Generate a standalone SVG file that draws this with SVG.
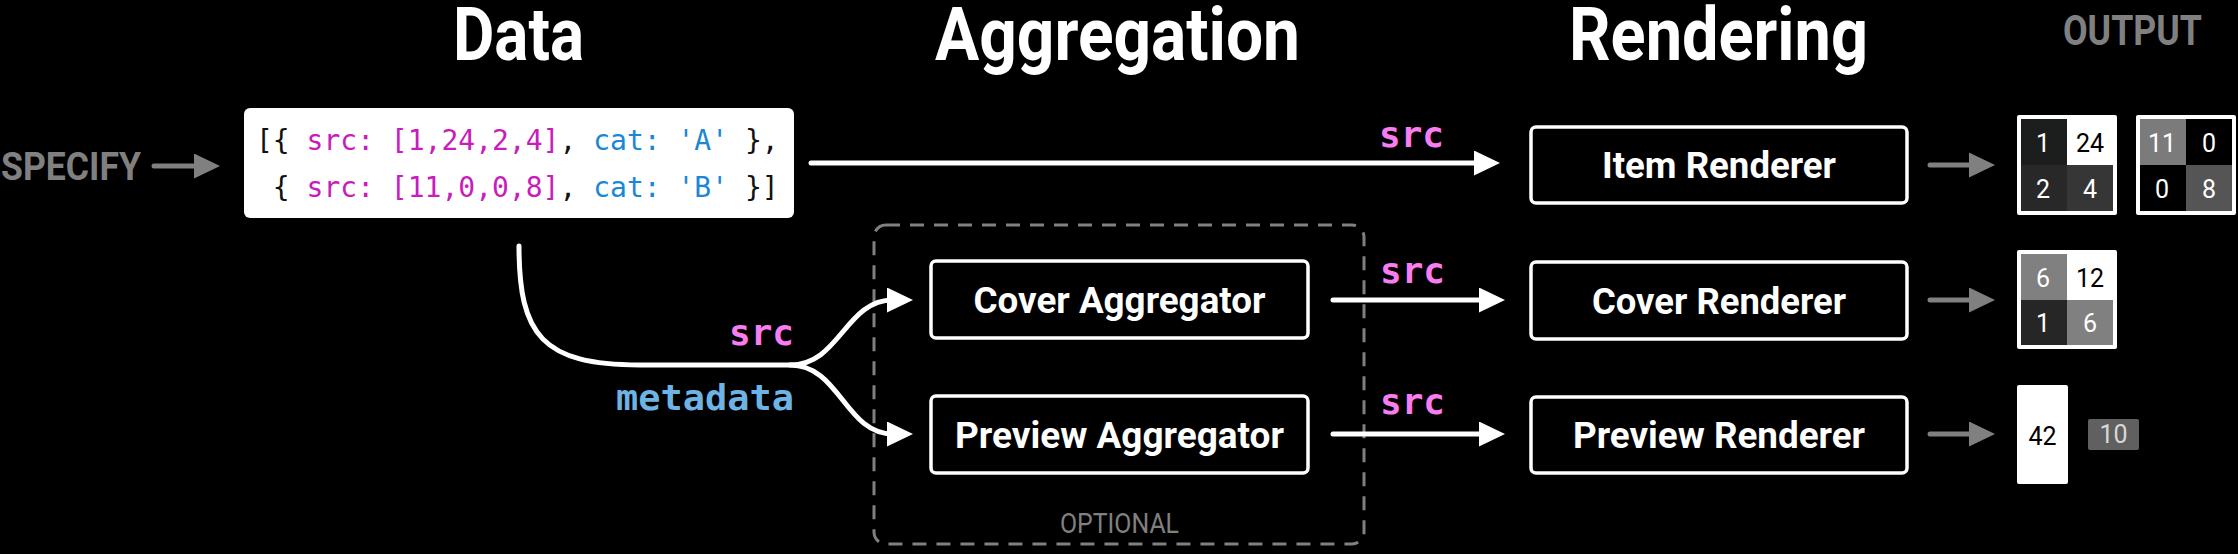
<svg xmlns="http://www.w3.org/2000/svg" width="2238" height="554" viewBox="0 0 2238 554">
<defs>
<style>
.title{font-family:Roboto,"Liberation Sans",sans-serif;font-weight:700;font-size:74px;fill:#fff}
.out{font-family:Roboto,"Liberation Sans",sans-serif;font-weight:700;font-size:42px;fill:#808080}
.box{fill:#000;stroke:#fff;stroke-width:3.5}
.lbl{font-family:Roboto,"Liberation Sans",sans-serif;font-weight:700;font-size:36px;fill:#fff;text-anchor:middle}
.code{font-family:"DejaVu Sans Mono","Liberation Mono",monospace;font-size:28px;fill:#111}
.mg{fill:#c81cbc}
.bl{fill:#1a88d6}
.mono{font-family:"DejaVu Sans Mono","Liberation Mono",monospace;font-weight:700;font-size:36px}
.src{fill:#f97cf0}
.meta{fill:#6db3e3}
.conn{fill:none;stroke:#fff;stroke-width:5;stroke-linecap:round}
.gconn{fill:none;stroke:#808080;stroke-width:5;stroke-linecap:round}
.num{font-family:Roboto,"Liberation Sans",sans-serif;font-size:25px;text-anchor:middle}
.w{fill:#fff}
.k{fill:#000}
.frame{fill:#fff}
</style>
<marker id="ah" markerUnits="userSpaceOnUse" markerWidth="26" markerHeight="25" refX="6" refY="12.5" orient="auto"><path d="M0,0 L26,12.5 L0,25 Z" fill="#fff"/></marker>
<marker id="ahg" markerUnits="userSpaceOnUse" markerWidth="26" markerHeight="25" refX="6" refY="12.5" orient="auto"><path d="M0,0 L26,12.5 L0,25 Z" fill="#808080"/></marker>
</defs>
<rect width="2238" height="554" fill="#000"/>

<g id="titles">
<text class="title" x="453" y="60" textLength="131" lengthAdjust="spacingAndGlyphs">Data</text>
<text class="title" x="935" y="60" textLength="365" lengthAdjust="spacingAndGlyphs">Aggregation</text>
<text class="title" x="1569" y="60" textLength="299" lengthAdjust="spacingAndGlyphs">Rendering</text>
<text class="out" x="2063" y="45" textLength="139" lengthAdjust="spacingAndGlyphs">OUTPUT</text>
</g>

<g id="specify">
<text x="1" y="180" font-family="Roboto,'Liberation Sans',sans-serif" font-weight="700" font-size="38" fill="#808080" textLength="140" lengthAdjust="spacingAndGlyphs">SPECIFY</text>
</g>

<g id="optional-group">
<rect x="874" y="225" width="490" height="319" rx="12" fill="none" stroke="#808080" stroke-width="3" stroke-dasharray="14 10"/>
<text x="1119.5" y="533" text-anchor="middle" font-family="Roboto,'Liberation Sans',sans-serif" font-size="28" fill="#808080" textLength="119" lengthAdjust="spacingAndGlyphs">OPTIONAL</text>
</g>

<g id="data-node">
<rect x="244" y="108" width="550" height="110" rx="6" fill="#fff"/>
<text class="code" x="256" y="150" xml:space="preserve">[{ <tspan class="mg">src: [1,24,2,4]</tspan>, <tspan class="bl">cat: 'A'</tspan> },</text>
<text class="code" x="256" y="197" xml:space="preserve"> { <tspan class="mg">src: [11,0,0,8]</tspan>, <tspan class="bl">cat: 'B'</tspan> }]</text>
</g>

<g id="cover-aggregator">
<rect class="box" x="931" y="261" width="377" height="77" rx="5"/>
<text class="lbl" x="1119.5" y="313" textLength="292" lengthAdjust="spacingAndGlyphs">Cover Aggregator</text>
</g>
<g id="preview-aggregator">
<rect class="box" x="931" y="396" width="377" height="77" rx="5"/>
<text class="lbl" x="1119.5" y="448" textLength="329" lengthAdjust="spacingAndGlyphs">Preview Aggregator</text>
</g>

<g id="item-renderer">
<rect class="box" x="1531" y="127" width="376" height="76" rx="5"/>
<text class="lbl" x="1719" y="178" textLength="234" lengthAdjust="spacingAndGlyphs">Item Renderer</text>
</g>
<g id="cover-renderer">
<rect class="box" x="1531" y="262" width="376" height="77" rx="5"/>
<text class="lbl" x="1719" y="313.5" textLength="254" lengthAdjust="spacingAndGlyphs">Cover Renderer</text>
</g>
<g id="preview-renderer">
<rect class="box" x="1531" y="397" width="376" height="76" rx="5"/>
<text class="lbl" x="1719" y="448" textLength="292" lengthAdjust="spacingAndGlyphs">Preview Renderer</text>
</g>

<g id="connectors">
<path class="gconn" d="M154,166 L200,166" marker-end="url(#ahg)"/>
<path class="conn" d="M811,163 L1480,163" marker-end="url(#ah)"/>
<path class="conn" d="M519,246 C519,335 542,365 640,365 L790,365 C840,365 845,300 893,300" marker-end="url(#ah)"/>
<path class="conn" d="M790,365 C840,365 845,434 893,434" marker-end="url(#ah)"/>
<path class="conn" d="M1333,300 L1485,300" marker-end="url(#ah)"/>
<path class="conn" d="M1333,434 L1485,434" marker-end="url(#ah)"/>
<path class="gconn" d="M1930,165 L1975,165" marker-end="url(#ahg)"/>
<path class="gconn" d="M1930,300 L1975,300" marker-end="url(#ahg)"/>
<path class="gconn" d="M1930,434 L1975,434" marker-end="url(#ahg)"/>
<text class="mono src" x="1379" y="147">src</text>
<text class="mono src" x="794" y="345" text-anchor="end">src</text>
<text class="mono meta" x="794" y="410" text-anchor="end" textLength="178" lengthAdjust="spacingAndGlyphs">metadata</text>
<text class="mono src" x="1380" y="283">src</text>
<text class="mono src" x="1380" y="414">src</text>
</g>

<g id="output-item-a">
<rect class="frame" x="2017" y="115" width="100" height="100" rx="2"/>
<rect x="2021" y="119" width="46" height="46" fill="#1c1d1d"/>
<rect x="2067" y="119" width="46" height="46" fill="#fff"/>
<rect x="2021" y="165" width="46" height="46" fill="#282828"/>
<rect x="2067" y="165" width="46" height="46" fill="#363636"/>
<text class="num w" x="2043" y="152">1</text>
<text class="num k" x="2090" y="152">24</text>
<text class="num w" x="2043" y="198">2</text>
<text class="num w" x="2090" y="198">4</text>
</g>
<g id="output-item-b">
<rect class="frame" x="2136" y="115" width="100" height="100" rx="2"/>
<rect x="2140" y="119" width="46" height="46" fill="#7b7b7b"/>
<rect x="2186" y="119" width="46" height="46" fill="#000"/>
<rect x="2140" y="165" width="46" height="46" fill="#000"/>
<rect x="2186" y="165" width="46" height="46" fill="#555"/>
<text class="num w" x="2162" y="152">11</text>
<text class="num w" x="2209" y="152">0</text>
<text class="num w" x="2162" y="198">0</text>
<text class="num w" x="2209" y="198">8</text>
</g>
<g id="output-cover">
<rect class="frame" x="2017" y="250" width="100" height="99" rx="2"/>
<rect x="2021" y="254" width="46" height="46" fill="#808080"/>
<rect x="2067" y="254" width="46" height="46" fill="#fff"/>
<rect x="2021" y="300" width="46" height="45" fill="#262626"/>
<rect x="2067" y="300" width="46" height="45" fill="#808080"/>
<text class="num w" x="2043" y="287">6</text>
<text class="num k" x="2090" y="287">12</text>
<text class="num w" x="2043" y="332">1</text>
<text class="num w" x="2090" y="332">6</text>
</g>
<g id="output-preview">
<rect x="2017" y="385" width="51" height="99" rx="2" fill="#fff"/>
<text class="num k" x="2042.5" y="445">42</text>
<rect x="2088" y="419" width="51" height="31" rx="2" fill="#606060"/>
<text class="num" x="2113.5" y="443" font-size="23" fill="#d8d8d8">10</text>
</g>
</svg>
